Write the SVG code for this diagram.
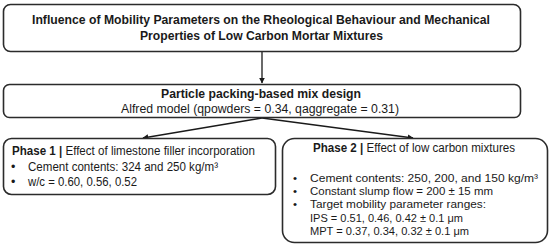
<svg xmlns="http://www.w3.org/2000/svg" width="550" height="245" viewBox="0 0 550 245">
<style>
.box{fill:#fff;stroke:#2b2b2b;stroke-width:1.6}
text{font-family:"Liberation Sans",Arial,sans-serif;fill:#1a1a1a}
.t{font-size:13.5px;font-weight:bold}
.b{font-size:12.5px}
.p2{font-size:11.5px}
.s{font-weight:bold}
.c{stroke:#1a1a1a;stroke-width:1.3;fill:none}
</style>
<defs>
<marker id="ah" viewBox="0 0 10 10" refX="9" refY="5" markerWidth="4.5" markerHeight="4.5" orient="auto-start-reverse">
<path d="M0,0 L10,5 L0,10 z" fill="#1a1a1a"/>
</marker>
</defs>
<rect width="550" height="245" fill="#fff"/>
<g id="connectors">
<path class="c" d="M262,52 L262,83" marker-end="url(#ah)"/>
<path class="c" d="M262,118 L143,138" marker-end="url(#ah)"/>
<path class="c" d="M262,118 L413,138" marker-end="url(#ah)"/>
</g>
<g id="title">
<rect class="box" x="3.5" y="4.5" width="517" height="47" rx="7"/>
<text class="t" x="32" y="23.5" textLength="458" lengthAdjust="spacingAndGlyphs">Influence of Mobility Parameters on the Rheological Behaviour and Mechanical</text>
<text class="t" x="140" y="39.5" textLength="243" lengthAdjust="spacingAndGlyphs">Properties of Low Carbon Mortar Mixtures</text>
</g>
<g id="mixdesign">
<rect class="box" x="3.5" y="84.5" width="517" height="33" rx="6"/>
<text class="t" x="161" y="98" textLength="200" lengthAdjust="spacingAndGlyphs">Particle packing-based mix design</text>
<text class="b" x="121" y="113" textLength="278" lengthAdjust="spacingAndGlyphs">Alfred model (qpowders = 0.34,  qaggregate = 0.31)</text>
</g>
<g id="phase1">
<rect class="box" x="3.5" y="138.5" width="272" height="56" rx="8"/>
<text class="b" x="12" y="155" textLength="243" lengthAdjust="spacingAndGlyphs"><tspan class="s">Phase 1 |</tspan> Effect of limestone filler incorporation</text>
<text class="b" x="11" y="171">•</text>
<text class="b" x="28" y="171" textLength="190" lengthAdjust="spacingAndGlyphs">Cement contents: 324 and 250 kg/m³</text>
<text class="b" x="11" y="186">•</text>
<text class="b" x="28" y="186" textLength="109" lengthAdjust="spacingAndGlyphs">w/c = 0.60, 0.56, 0.52</text>
</g>
<g id="phase2">
<rect class="box" x="282.5" y="138.5" width="265" height="104" rx="12"/>
<text class="b" x="313" y="151.5" textLength="202" lengthAdjust="spacingAndGlyphs"><tspan class="s">Phase 2 |</tspan> Effect of low carbon mixtures</text>
<text class="p2" x="293" y="182">•</text>
<text class="p2" x="310" y="182" textLength="228" lengthAdjust="spacingAndGlyphs">Cement contents: 250, 200, and 150 kg/m³</text>
<text class="p2" x="293" y="195">•</text>
<text class="p2" x="310" y="195" textLength="183" lengthAdjust="spacingAndGlyphs">Constant slump flow = 200 ± 15 mm</text>
<text class="p2" x="293" y="208">•</text>
<text class="p2" x="310" y="208" textLength="176" lengthAdjust="spacingAndGlyphs">Target mobility parameter ranges:</text>
<text class="p2" x="310" y="221.5" textLength="153" lengthAdjust="spacingAndGlyphs">IPS = 0.51, 0.46, 0.42 ± 0.1 μm</text>
<text class="p2" x="310" y="235" textLength="159" lengthAdjust="spacingAndGlyphs">MPT = 0.37, 0.34, 0.32 ± 0.1 μm</text>
</g>
</svg>
